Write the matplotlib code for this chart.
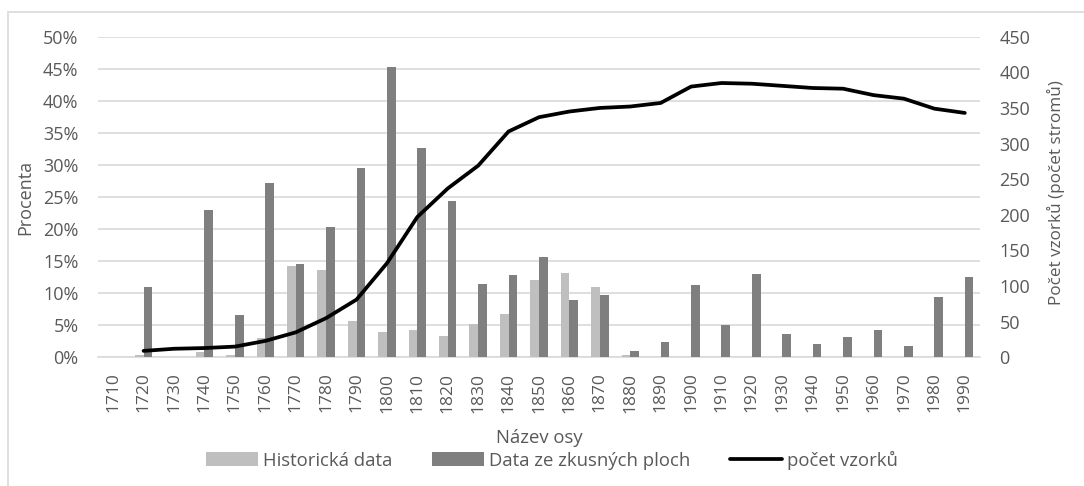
import matplotlib
matplotlib.use("Agg")
import matplotlib.pyplot as plt
from matplotlib.patches import Rectangle
from matplotlib.ticker import FuncFormatter
import numpy as np

# donnees
roky = [1710, 1720, 1730, 1740, 1750, 1760, 1770, 1780, 1790, 1800,
        1810, 1820, 1830, 1840, 1850, 1860, 1870, 1880, 1890, 1900,
        1910, 1920, 1930, 1940, 1950, 1960, 1970, 1980, 1990]
historicka = [0, 0.3, 0, 0.9, 0.4, 3.0, 14.3, 13.6, 5.7, 3.9,
              4.3, 3.3, 5.2, 6.8, 12.1, 13.1, 10.9, 0.3, 0, 0,
              0, 0, 0, 0, 0, 0, 0, 0, 0]
zkusne_plochy = [0, 11.0, 0, 23.0, 6.6, 27.2, 14.6, 20.3, 29.5, 45.3,
                 32.6, 24.3, 11.4, 12.8, 15.6, 8.9, 9.7, 1.0, 2.4, 11.2,
                 5.1, 13.0, 3.6, 2.1, 3.1, 4.3, 1.8, 9.4, 12.5]
pocet_vzorku = [None, 9, 12, 13, 15, 23, 35, 55, 81, 132,
                197, 237, 269, 317, 337, 345, 350, 352, 357, 380,
                385, 384, 381, 378, 377, 368, 363, 349, 343]

plt.rcParams['font.family'] = ['Open Sans', 'DejaVu Sans']
text_col = "#595959"

fig = plt.figure(figsize=(10.84, 4.86), dpi=100)
W, H = 1084, 486
ax = fig.add_axes([98 / W, 1 - 357.3 / H, (980 - 98) / W, (357.3 - 36.7) / H])
ax2 = ax.twinx()

x = np.arange(len(roky))
bw = 0.286
ax.bar(x - bw / 2, historicka, bw, color="#bfbfbf", label="Historická data", zorder=3)
ax.bar(x + bw / 2, zkusne_plochy, bw, color="#7f7f7f", label="Data ze zkusných ploch", zorder=3)

xs = [i for i, v in zip(x, pocet_vzorku) if v is not None]
ys = [v for v in pocet_vzorku if v is not None]
ax2.plot(xs, ys, color="black", linewidth=2.7, label="počet vzorků", solid_capstyle="round", zorder=4)

ax.set_xlim(-0.5, len(roky) - 0.5)
ax.set_ylim(0, 50)
ax2.set_ylim(0, 450)
ax.set_yticks(np.arange(0, 51, 5))
ax2.set_yticks(np.arange(0, 451, 50))
ax.yaxis.set_major_formatter(FuncFormatter(lambda v, p: "%d%%" % v))

ax.grid(axis="y", color="#d9d9d9", linewidth=1.2, zorder=0)
ax.set_axisbelow(True)
for a in (ax, ax2):
    for s in a.spines.values():
        s.set_visible(False)
ax.spines["bottom"].set_visible(True)
ax.spines["bottom"].set_color("#d9d9d9")
ax.spines["bottom"].set_linewidth(1.2)

ax.set_xticks(x)
ax.set_xticklabels([str(r) for r in roky], rotation=90)
ax.tick_params(axis="x", length=0, pad=11, labelsize=12.5, labelcolor=text_col)
ax.tick_params(axis="y", length=0, pad=14, labelsize=13, labelcolor=text_col)
ax2.tick_params(axis="y", length=0, pad=14, labelsize=13, labelcolor=text_col)

fig.text(25 / W, 1 - 197 / H, "Procenta", rotation=90, ha="center", va="center",
         fontsize=13, color=text_col)
fig.text(1056 / W, 1 - 193 / H, "Počet vzorků (počet stromů)", rotation=90, ha="center",
         va="center", fontsize=12.3, color=text_col)
fig.text(539 / W, 1 - 438 / H, "Název osy", ha="center", va="center", fontsize=13.3, color=text_col)

h1, l1 = ax.get_legend_handles_labels()
h2, l2 = ax2.get_legend_handles_labels()
leg = fig.legend(h1 + h2, l1 + l2, loc="center", bbox_to_anchor=(552 / W, 1 - 460 / H),
                 ncol=3, frameon=False, fontsize=13.3, handlelength=2.8, handleheight=0.75,
                 handletextpad=0.27, columnspacing=2.15)
for t in leg.get_texts():
    t.set_color(text_col)

# cadre du graphique
fig.patches.append(Rectangle((8 / W, -0.1), 1.2, 1 - 12 / H + 0.1, transform=fig.transFigure,
                             fill=False, edgecolor="#d9d9d9", linewidth=1.2))

plt.savefig("out.png", dpi=100)
plt.close()
